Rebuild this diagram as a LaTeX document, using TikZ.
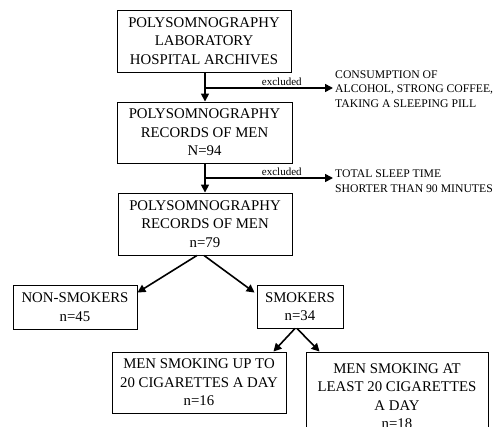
\documentclass[tikz,border=0pt]{standalone}
\usepackage{fontspec}
\setmainfont{Liberation Serif}
\usetikzlibrary{arrows.meta,calc}
\begin{document}
\begin{tikzpicture}[x=1pt,y=-1pt,
  box/.style={draw, line width=0.9pt, inner sep=0pt, align=center,
    font=\fontsize{14.8}{18.5}\selectfont},
  side/.style={inner sep=2pt, align=left, anchor=west,
    font=\fontsize{11.7}{14.5}\selectfont},
  arr/.style={line width=1.6pt, -{Triangle[width=8pt,length=8pt]}},
  lbl/.style={font=\fontsize{11}{13}\selectfont, inner sep=2pt}]
\useasboundingbox (0,0) rectangle (495,426);

\node[box, minimum width=174pt, minimum height=62pt] (b1) at (204,41)
  {POLYSOMNOGRAPHY\\LABORATORY\\HOSPITAL ARCHIVES};
\node[box, minimum width=175pt, minimum height=61pt] (b2) at (204.5,132.5)
  {POLYSOMNOGRAPHY\\RECORDS OF MEN\\N=94};
\node[box, minimum width=174pt, minimum height=62pt] (b3) at (205,224)
  {POLYSOMNOGRAPHY\\RECORDS OF MEN\\n=79};
\node[box, minimum width=124pt, minimum height=44pt] (ns) at (75,307)
  {NON-SMOKERS\\n=45};
\node[box, minimum width=86pt, minimum height=43pt] (sm) at (300,306.5)
  {SMOKERS\\n=34};
\node[box, minimum width=174pt, minimum height=61pt] (u20) at (199,382.5)
  {MEN SMOKING UP TO\\20 CIGARETTES A DAY\\n=16};
\node[box, minimum width=182pt, minimum height=88pt] (a20) at (397,396)
  {MEN SMOKING AT\\LEAST 20 CIGARETTES\\A DAY\\n=18};

\node[side] (x1) at (333,89)
  {CONSUMPTION OF\\ALCOHOL, STRONG COFFEE,\\TAKING A SLEEPING PILL};
\node[side] (x2) at (333,181)
  {TOTAL SLEEP TIME\\SHORTER THAN 90 MINUTES};

\draw[arr] (b1.south -| 205,0) -- (b2.north -| 205,0);
\draw[arr] (b2.south -| 205,0) -- (b3.north -| 205,0);

\coordinate (e1) at (205,88);
\coordinate (e2) at (205,178);
\draw[arr] (e1) -- node[lbl, above, pos=0.6] {excluded} (e1 -| x1.west);
\draw[arr] (e2) -- node[lbl, above, pos=0.6] {excluded} (e2 -| x2.west);

\draw[arr] ($(b3.south)+(-8,0)$) -- ($(ns.north east)+(0,8)$);
\draw[arr] ($(b3.south)+(-1,0)$) -- ($(sm.north west)+(-2,8)$);
\draw[arr] ($(sm.south)+(-5,0)$) -- ($(u20.north east)+(-13,0)$);
\draw[arr] ($(sm.south)+(-3,0)$) -- ($(a20.north west)+(14,0)$);
\end{tikzpicture}
\end{document}
